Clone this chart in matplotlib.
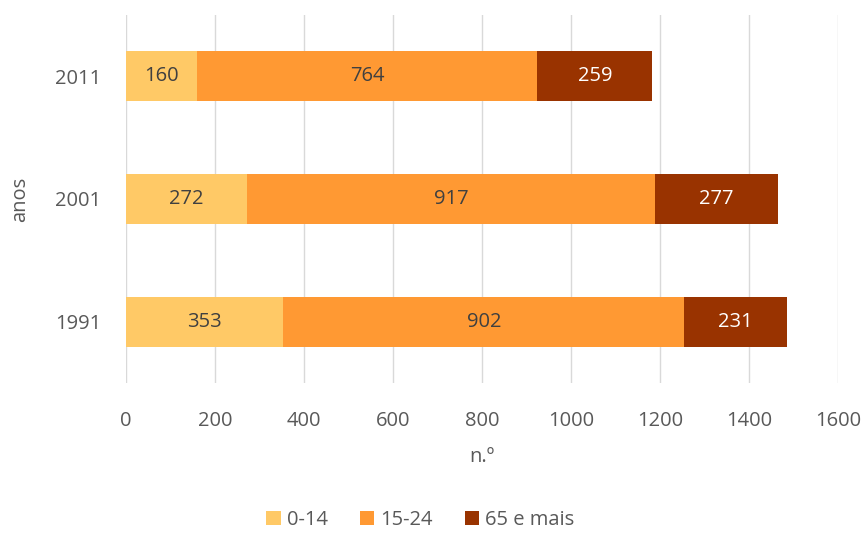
import matplotlib.pyplot as plt
import numpy as np

plt.rcParams['font.family'] = ['Open Sans', 'DejaVu Sans']

years = ['1991', '2001', '2011']
groups = ['0-14', '15-24', '65 e mais']
young = [353, 272, 160]
youth = [902, 917, 764]
old = [231, 277, 259]
colors = ['#FFC966', '#FF9933', '#993300']
label_colors = ['#404040', '#404040', 'white']

fig = plt.figure(figsize=(8.63, 5.33), dpi=100)
ax = fig.add_axes([0.146, 0.2814, 0.825, 0.6906])

y = np.arange(len(years))
left = np.zeros(len(years))
for vals, name, c, lc in zip([young, youth, old], groups, colors, label_colors):
    bars = ax.barh(y, vals, left=left, height=0.41, color=c, label=name, zorder=3)
    for b, v in zip(bars, vals):
        ax.text(b.get_x() + b.get_width() / 2, b.get_y() + b.get_height() / 2, str(v),
                ha='center', va='center', color=lc, fontsize=14.5, zorder=4)
    left += np.array(vals)

ax.set_xlim(0, 1600)
ax.set_ylim(-0.5, 2.5)
ax.set_xticks(range(0, 1601, 200))
ax.set_yticks(y)
ax.set_yticklabels(years)
ax.grid(axis='x', color='#D9D9D9', linewidth=1, zorder=0)
for s in ax.spines.values():
    s.set_visible(False)
ax.tick_params(length=0, labelsize=14.5, labelcolor='#595959')
ax.tick_params(axis='x', pad=20)
ax.tick_params(axis='y', pad=18)
ax.set_xlabel('n.º', fontsize=14.5, color='#595959', labelpad=12)
ax.set_ylabel('anos', fontsize=14.5, color='#595959', labelpad=18)

fig.legend(loc='lower center', bbox_to_anchor=(0.487, -0.028), ncol=3, frameon=False,
           fontsize=14.5, labelcolor='#595959', handlelength=0.7, handleheight=0.7,
           handletextpad=0.3, columnspacing=1.6)

fig.savefig('out.png', dpi=100)
